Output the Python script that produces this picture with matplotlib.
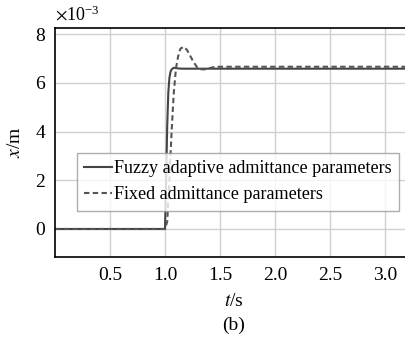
import numpy as np
import matplotlib.pyplot as plt

# donnees (x en 1e-3 m)
t_fuzzy = [0.0, 1.0, 1.01, 1.02, 1.03, 1.04, 1.05, 1.06, 1.08, 1.10, 1.15, 3.2]
x_fuzzy = [0.0, 0.0, 2.0, 4.2, 5.6, 6.2, 6.45, 6.55, 6.62, 6.6, 6.58, 6.58]

t_fixed = [0.0, 1.0, 1.02, 1.04, 1.06, 1.08, 1.10, 1.12, 1.14, 1.17, 1.20, 1.23,
           1.26, 1.29, 1.32, 1.36, 1.40, 1.45, 1.50, 3.2]
x_fixed = [0.0, 0.0, 0.3, 2.0, 4.0, 5.6, 6.6, 7.1, 7.4, 7.48, 7.35, 7.1,
           6.85, 6.65, 6.56, 6.55, 6.6, 6.65, 6.66, 6.66]

xticks = [0.5, 1.0, 1.5, 2.0, 2.5, 3.0]
xticklabels = ['0.5', '1.0', '1.5', '2.0', '2.5', '3.0']
yticks = [0, 2, 4, 6, 8]

plt.rcParams['font.family'] = ['Liberation Serif', 'DejaVu Serif']
plt.rcParams['mathtext.fontset'] = 'stix'

fig = plt.figure(figsize=(4.06, 3.37), dpi=100)
ax = fig.add_axes([55 / 406, 1 - 257 / 337, 352 / 406, 229 / 337])

ax.plot(t_fuzzy, x_fuzzy, color='#444444', lw=1.5, label='Fuzzy adaptive admittance parameters')
ax.plot(t_fixed, x_fixed, color='#555555', lw=1.5, ls=(0, (2.6, 1.6)), label='Fixed admittance parameters')

ax.set_xlim(0, 3.2)
ax.set_ylim(-1.15, 8.25)
ax.set_xticks(xticks)
ax.set_xticklabels(xticklabels)
ax.set_yticks(yticks)
ax.tick_params(length=0, labelsize=14, pad=7)
ax.grid(True, color='#d0d0d0', lw=1.0)
ax.spines['right'].set_visible(False)
for s in ['left', 'bottom', 'top']:
    ax.spines[s].set_linewidth(1.2)

ax.set_ylabel('$x$/m', fontsize=14, labelpad=8)
ax.text(0.0, 1 + 7 / 229, r'$\times$10$^{\mathregular{-3}}$', transform=ax.transAxes,
        fontsize=13, va='baseline')
fig.text(234 / 406, 1 - 302 / 337, '$t$/s', fontsize=14, ha='center', va='center')
fig.text(234 / 406, 1 - 325 / 337, '(b)', fontsize=14, ha='center', va='center')

leg = ax.legend(loc='upper left', bbox_to_anchor=(22 / 352, 1 - 125 / 229), fontsize=13.1, frameon=True,
                fancybox=False, edgecolor='#999999', handlelength=1.5, handletextpad=0.15,
                borderpad=0.4, borderaxespad=0, labelspacing=0.5)
leg.get_frame().set_linewidth(1.0)

fig.savefig('out.png', dpi=100)
